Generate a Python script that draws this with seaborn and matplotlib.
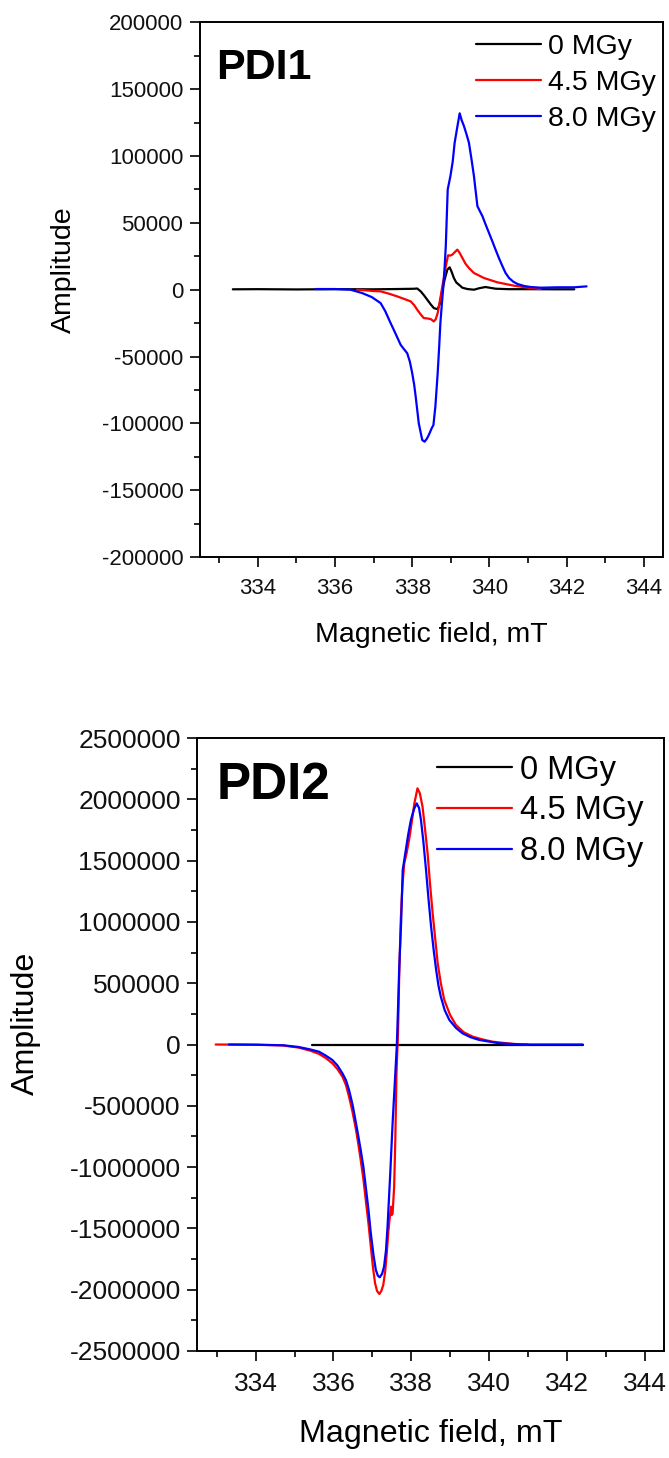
import numpy as np
import pandas as pd
import matplotlib
matplotlib.use("Agg")
import matplotlib.pyplot as plt
from matplotlib.ticker import MultipleLocator, FuncFormatter
import seaborn as sns

# ---------------- PDI1 spectra (field in mT, amplitude) ----------------
pdi1_dose_labels = ["0 MGy", "4.5 MGy", "8.0 MGy"]

pdi1_0_field = [333.35, 334.0, 335.0, 336.0, 337.0, 337.6, 338.04, 338.13, 338.22, 338.3,
                338.39, 338.48, 338.56, 338.62, 338.66, 338.71, 338.75, 338.8, 338.84, 338.91,
                338.97, 339.02, 339.08, 339.14, 339.21, 339.3, 339.43, 339.6, 339.75, 339.9,
                340.16, 340.5, 341.0, 341.7, 342.2]
pdi1_0_amp = [300, 400, 200, 400, 300, 500, 700, 900, -1250, -4000,
              -7500, -11000, -13750, -14300, -14500, -11000, -5000, 2000, 7500, 15000,
              16750, 13500, 8750, 5500, 3750, 1500, 500, 0, 1200, 2000,
              750, 400, 400, 300, 300]

pdi1_45_field = [336.57, 336.8, 337.0, 337.18, 337.4, 337.61, 337.8, 337.96, 338.05, 338.13,
                 338.22, 338.3, 338.39, 338.48, 338.56, 338.61, 338.66, 338.72, 338.78, 338.83,
                 338.87, 338.93, 338.98, 339.04, 339.1, 339.17, 339.23, 339.3, 339.38, 339.47,
                 339.6, 339.86, 340.21, 340.64, 341.07, 341.33]
pdi1_45_amp = [0, -500, -1000, -1250, -3000, -5000, -7000, -8750, -11500, -15000,
               -18500, -21250, -21500, -22000, -23750, -22000, -17500, -8000, 2500, 10000,
               17500, 25750, 25500, 26250, 28000, 30000, 27500, 23750, 19500, 16250,
               12500, 8750, 5500, 3000, 1250, 500]

pdi1_80_field = [335.49, 336.0, 336.4, 336.7, 336.95, 337.18, 337.3, 337.44, 337.57, 337.7,
                 337.8, 337.87, 337.94, 338.0, 338.05, 338.09, 338.13, 338.17, 338.22, 338.26,
                 338.32, 338.38, 338.43, 338.5, 338.55, 338.6, 338.66, 338.7, 338.73, 338.77,
                 338.8, 338.84, 338.87, 338.92, 338.99, 339.05, 339.1, 339.17, 339.23, 339.28,
                 339.34, 339.4, 339.47, 339.54, 339.6, 339.69, 339.75, 339.82, 339.9, 339.99,
                 340.08, 340.16, 340.25, 340.34, 340.42, 340.51, 340.62, 340.73, 340.9, 341.07,
                 341.33, 341.77, 342.2, 342.52]
pdi1_80_amp = [500, 500, 0, -2500, -5500, -10000, -16000, -25000, -33000, -41250,
               -45000, -47500, -54000, -62500, -71000, -80000, -90000, -100000, -107000, -112500,
               -113750, -111500, -108750, -104000, -101250, -87500, -62500, -42000, -25000, -10000,
               0, 17000, 32500, 75000, 85000, 96000, 110000, 122000, 132000, 127000,
               122500, 117000, 110000, 97000, 85000, 62500, 59000, 55000, 49000, 42500,
               36000, 30000, 23500, 17500, 12500, 8750, 6000, 4250, 2800, 2000,
               1500, 1800, 1800, 2500]

# ---------------- PDI2 spectra ----------------
pdi2_dose_labels = ["0 MGy", "4.5 MGy", "8.0 MGy"]

pdi2_0_field = [335.46, 337.0, 338.0, 339.0, 340.0, 341.0, 342.41]
pdi2_0_amp = [0, 0, 0, 0, 0, 0, 0]

pdi2_45_field = [332.97, 334.0, 334.7, 335.1, 335.4, 335.63, 335.8, 335.97, 336.1, 336.23,
                 336.32, 336.4, 336.49, 336.58, 336.64, 336.7, 336.77, 336.83, 336.9, 336.96,
                 337.02, 337.07, 337.12, 337.18, 337.23, 337.28, 337.33, 337.37, 337.41, 337.45,
                 337.48, 337.5, 337.52, 337.56, 337.59, 337.62, 337.66, 337.69, 337.73, 337.77,
                 337.82, 337.88, 337.95, 338.02, 338.08, 338.16, 338.22, 338.29, 338.35, 338.42,
                 338.48, 338.55, 338.62, 338.68, 338.76, 338.85, 339.0, 339.15, 339.35, 339.58,
                 339.85, 340.09, 340.61, 341.0]
pdi2_45_amp = [0, -2000, -8000, -25000, -50000, -77000, -110000, -153000, -200000, -262000,
               -330000, -426000, -550000, -697000, -815000, -942000, -1100000, -1268000, -1460000, -1649000,
               -1830000, -1948000, -2010000, -2035000, -2010000, -1962000, -1850000, -1703000, -1530000, -1405000,
               -1323000, -1391000, -1380000, -1160000, -779000, -235000, 100000, 560000, 1016000, 1280000,
               1478000, 1560000, 1680000, 1830000, 1967000, 2090000, 2050000, 1940000, 1770000, 1560000,
               1320000, 1070000, 850000, 662000, 500000, 363000, 240000, 159000, 100000, 64000,
               40000, 23000, 5000, 0]

pdi2_80_field = [333.31, 334.0, 334.7, 335.1, 335.4, 335.63, 335.8, 335.97, 336.1, 336.23,
                 336.32, 336.4, 336.49, 336.58, 336.64, 336.7, 336.77, 336.83, 336.9, 336.96,
                 337.03, 337.09, 337.14, 337.19, 337.25, 337.3, 337.35, 337.39, 337.46, 337.52,
                 337.59, 337.63, 337.66, 337.69, 337.74, 337.78, 337.86, 337.92, 337.99, 338.07,
                 338.14, 338.2, 338.25, 338.31, 338.38, 338.44, 338.51, 338.58, 338.64, 338.7,
                 338.76, 338.86, 338.98, 339.15, 339.32, 339.52, 339.75, 340.27, 340.86, 342.41]
pdi2_80_amp = [0, -1500, -6000, -20000, -40000, -59000, -90000, -126000, -170000, -235000,
               -290000, -371000, -490000, -643000, -750000, -860000, -1000000, -1160000, -1350000, -1540000,
               -1720000, -1840000, -1885000, -1899000, -1870000, -1813000, -1680000, -1486000, -1051000, -643000,
               -235000, 0, 300000, 620000, 1000000, 1423000, 1587000, 1710000, 1831000, 1920000,
               1967000, 1930000, 1831000, 1660000, 1423000, 1200000, 961000, 760000, 608000, 480000,
               390000, 280000, 200000, 135000, 91000, 60000, 37000, 10000, 0, 0]

x_ticks = [334, 336, 338, 340, 342, 344]
line_colors = ["#000000", "#ff0000", "#0000ff"]


def spectra_frame(labels, fields, amps):
    parts = []
    for lab, f, a in zip(labels, fields, amps):
        parts.append(pd.DataFrame({"field": f, "amp": a, "dose": lab}))
    return pd.concat(parts, ignore_index=True)


df1 = spectra_frame(pdi1_dose_labels,
                    [pdi1_0_field, pdi1_45_field, pdi1_80_field],
                    [pdi1_0_amp, pdi1_45_amp, pdi1_80_amp])
df2 = spectra_frame(pdi2_dose_labels,
                    [pdi2_0_field, pdi2_45_field, pdi2_80_field],
                    [pdi2_0_amp, pdi2_45_amp, pdi2_80_amp])

sns.set_theme(style="ticks")
plt.rcParams["font.family"] = ["Liberation Sans", "DejaVu Sans"]
plt.rcParams["axes.unicode_minus"] = False
plt.rcParams["text.color"] = "black"
plt.rcParams["axes.labelcolor"] = "black"

fig = plt.figure(figsize=(6.69, 14.58), dpi=100)
ax1 = fig.add_axes([0.299, 0.618, 0.692, 0.3666])
ax2 = fig.add_axes([0.295, 0.0734, 0.6976, 0.4204])

int_fmt = FuncFormatter(lambda v, _: f"{int(round(v))}")


def style_panel(ax, df, labels, ylim, ymajor, tick_fs, label_fs, legend_fs,
                legend_anchor, legend_handlelen, legend_pad, legend_spacing,
                title, title_fs, title_pos, ylabel_pos, xlabel_pad):
    sns.lineplot(data=df, x="field", y="amp", hue="dose", hue_order=labels,
                 palette=line_colors, estimator=None, sort=False, lw=1.6,
                 legend=False, ax=ax)
    ax.set_xlim(332.5, 344.5)
    ax.set_ylim(*ylim)
    ax.set_xticks(x_ticks)
    ax.xaxis.set_minor_locator(MultipleLocator(1))
    ax.yaxis.set_major_locator(MultipleLocator(ymajor))
    ax.yaxis.set_minor_locator(MultipleLocator(ymajor / 2))
    ax.yaxis.set_major_formatter(int_fmt)
    ax.tick_params(which="major", direction="out", length=7, width=1.2,
                   labelsize=tick_fs, color="black", labelcolor="#111111")
    ax.tick_params(axis="x", which="major", pad=8)
    ax.tick_params(axis="y", which="major", pad=5)
    ax.tick_params(which="minor", direction="out", length=4, width=1.2, color="black")
    for sp in ax.spines.values():
        sp.set_visible(True)
        sp.set_linewidth(1.4)
        sp.set_color("black")
    ax.set_xlabel("Magnetic field, mT", fontsize=label_fs, labelpad=xlabel_pad)
    ax.set_ylabel("Amplitude", fontsize=label_fs)
    ax.yaxis.set_label_coords(*ylabel_pos)
    ax.text(title_pos[0], title_pos[1], title, transform=ax.transAxes,
            fontsize=title_fs, fontweight="bold", ha="left", va="baseline",
            color="black")
    ax.legend(handles=ax.get_lines()[:3], labels=labels, loc="upper left",
              bbox_to_anchor=legend_anchor, borderaxespad=0, borderpad=0,
              frameon=False, fontsize=legend_fs, handlelength=legend_handlelen,
              handletextpad=legend_pad, labelspacing=legend_spacing)


style_panel(ax1, df1, pdi1_dose_labels, (-200000, 200000), 50000,
            tick_fs=16, label_fs=20.5, legend_fs=20.5,
            legend_anchor=(0.596, 0.979), legend_handlelen=2.3, legend_pad=0.22,
            legend_spacing=0.35, title="PDI1", title_fs=31,
            title_pos=(0.035, 0.894), ylabel_pos=(-0.265, 0.537), xlabel_pad=17)

style_panel(ax2, df2, pdi2_dose_labels, (-2500000, 2500000), 500000,
            tick_fs=19, label_fs=23.2, legend_fs=23.5,
            legend_anchor=(0.513, 0.973), legend_handlelen=2.3, legend_pad=0.25,
            legend_spacing=0.3, title="PDI2", title_fs=37,
            title_pos=(0.042, 0.9005), ylabel_pos=(-0.335, 0.535), xlabel_pad=17)

fig.savefig("out.png", dpi=100, facecolor="white")
